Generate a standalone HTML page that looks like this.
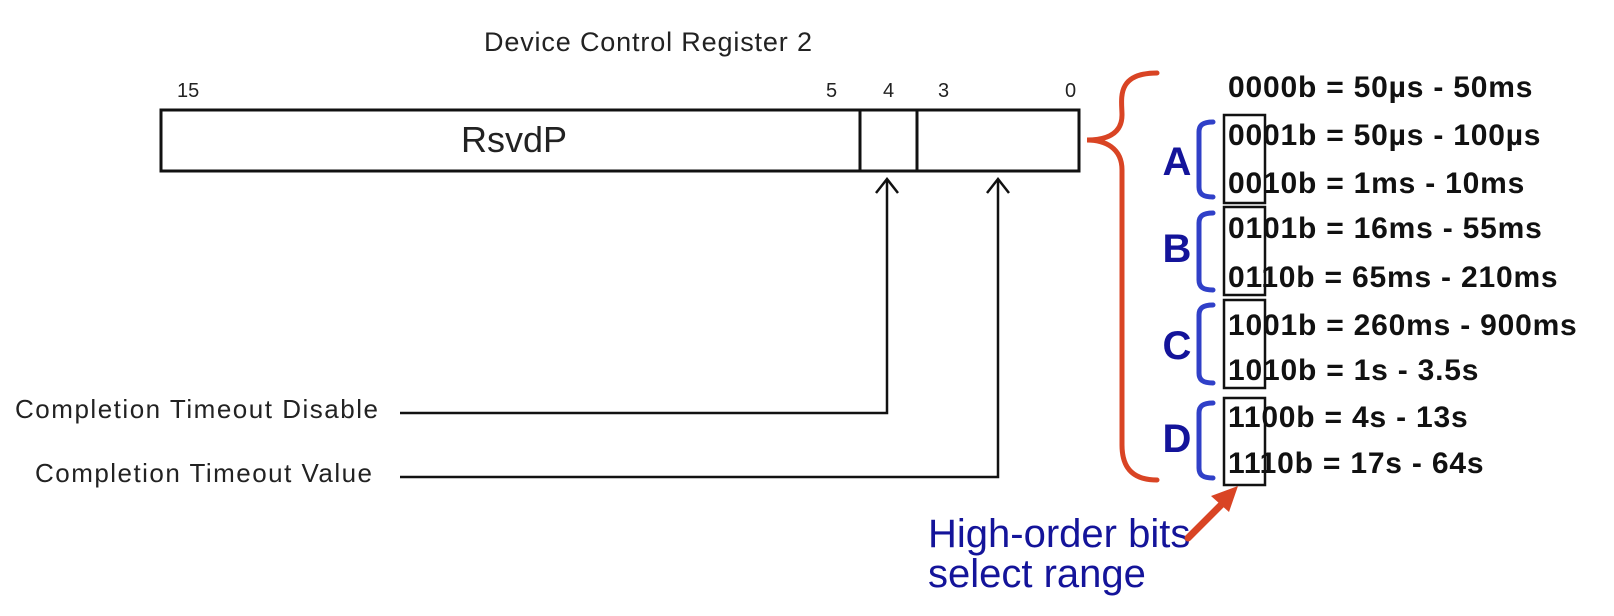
<!DOCTYPE html>
<html><head><meta charset="utf-8"><style>
html,body{margin:0;padding:0;background:#fff;width:1614px;height:616px;overflow:hidden}
svg text{font-family:"Liberation Sans",Arial,sans-serif}
</style></head><body>
<svg width="1614" height="616" viewBox="0 0 1614 616" xmlns="http://www.w3.org/2000/svg">
<text x="484" y="51" font-size="27" fill="#222" textLength="328">Device Control Register 2</text>
<g font-size="20" fill="#222">
<text x="177" y="97">15</text><text x="826" y="97">5</text><text x="883" y="97">4</text><text x="938" y="97">3</text><text x="1065" y="97">0</text>
</g>
<g stroke="#111" stroke-width="3" fill="none">
<rect x="161" y="110" width="918" height="61" fill="#fff"/>
<line x1="860" y1="110" x2="860" y2="171"/>
<line x1="917" y1="110" x2="917" y2="171"/>
</g>
<text x="514" y="152" font-size="36" fill="#222" text-anchor="middle">RsvdP</text>
<g stroke="#111" stroke-width="2.5" fill="none">
<polyline points="400,413 887,413 887,180"/>
<polyline points="400,477 998,477 998,180"/>
<polyline points="876,193 887,179 898,193"/>
<polyline points="987,193 998,179 1009,193"/>
</g>
<g font-size="26" fill="#222">
<text x="15" y="418" textLength="363">Completion Timeout Disable</text>
<text x="35" y="482" textLength="337">Completion Timeout Value</text>
</g>
<path d="M1157,73 C1115,73 1122,100 1122,115 C1122,135 1105,140 1087,140 C1105,140 1122,148 1122,170 L1122,445 C1122,470 1135,480 1157,480" stroke="#d94424" stroke-width="5" fill="none" stroke-linecap="round"/>
<g stroke="#3040c8" stroke-width="5" fill="none" stroke-linecap="round">
<path d="M1213,122 C1203,122 1199,125 1199,132 L1199,187 C1199,194 1203,197 1213,197"/>
<path d="M1213,213 C1203,213 1199,216 1199,223 L1199,280 C1199,287 1203,290 1213,290"/>
<path d="M1213,305 C1203,305 1199,308 1199,315 L1199,373 C1199,380 1203,383 1213,383"/>
<path d="M1213,403 C1203,403 1199,406 1199,413 L1199,468 C1199,475 1203,478 1213,478"/>
</g>
<g font-size="40" font-weight="bold" fill="#14149a" text-anchor="middle">
<text x="1177" y="175">A</text><text x="1177" y="262">B</text><text x="1177" y="359">C</text><text x="1177" y="452">D</text>
</g>
<g stroke="#111" stroke-width="2.5" fill="none">
<rect x="1224" y="115" width="41" height="88"/>
<rect x="1224" y="207" width="41" height="88"/>
<rect x="1224" y="300" width="41" height="88"/>
<rect x="1224" y="398" width="41" height="87"/>
</g>
<g font-size="30" font-weight="bold" fill="#111" letter-spacing="0.8">
<text x="1228" y="97">0000b = 50µs - 50ms</text>
<text x="1228" y="145">0001b = 50µs - 100µs</text>
<text x="1228" y="193">0010b = 1ms  - 10ms</text>
<text x="1228" y="238">0101b = 16ms - 55ms</text>
<text x="1228" y="287">0110b = 65ms - 210ms</text>
<text x="1228" y="335">1001b = 260ms - 900ms</text>
<text x="1228" y="380">1010b = 1s - 3.5s</text>
<text x="1228" y="427">1100b = 4s - 13s</text>
<text x="1228" y="473">1110b = 17s - 64s</text>
</g>
<g font-size="40" fill="#14149a">
<text x="928" y="547">High-order bits</text>
<text x="928" y="587">select range</text>
</g>
<line x1="1188" y1="538" x2="1224" y2="502" stroke="#d94424" stroke-width="7" stroke-linecap="round"/>
<polygon points="1238,486 1211,496 1229,512" fill="#d94424"/>
</svg>
</body></html>
